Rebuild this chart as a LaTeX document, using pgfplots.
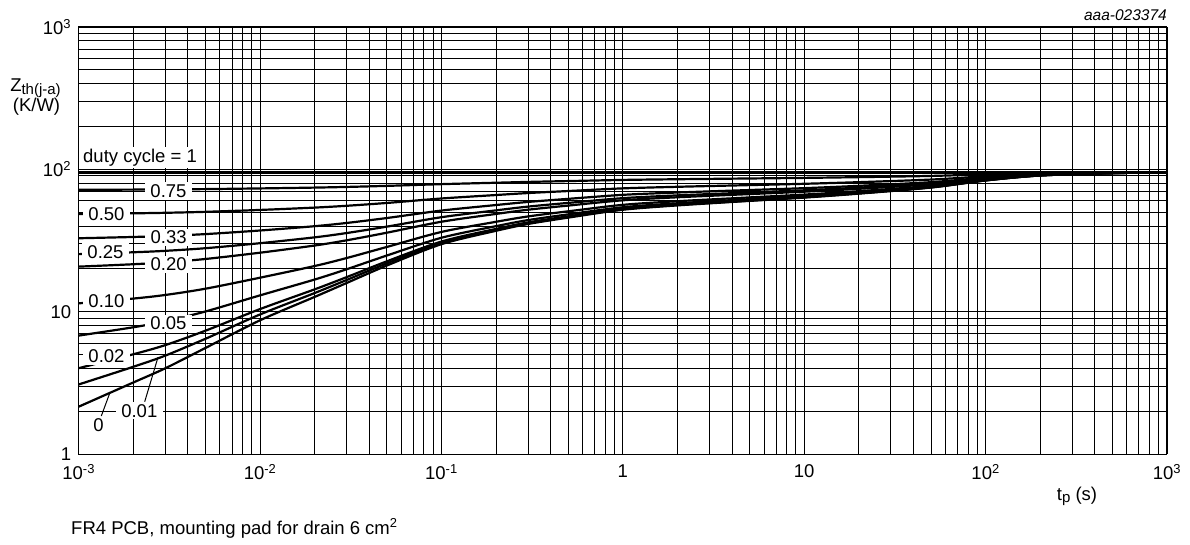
\documentclass[border=0pt]{standalone}
\usepackage{fontspec}
\setmainfont{Liberation Sans}
\usepackage{pgfplots}
\usepackage{pgfplotstable}
\pgfplotsset{compat=1.18}

\pgfplotstableread{
t     d0    d001  d002  d005  d010  d020  d025  d033  d050  d075  d100
0.001 2.15  3.08  4.01  6.79  11.44 20.72 25.36 32.79 48.58 71.79 95
0.002 3.18  4.10  5.02  7.77  12.36 21.54 26.14 33.48 49.09 72.05 95
0.003 4.00  4.91  5.82  8.55  13.10 22.20 26.75 34.03 49.50 72.25 95
0.005 5.56  6.45  7.35  10.03 14.50 23.45 27.92 35.08 50.28 72.64 95
0.01  8.70  9.56  10.43 13.02 17.33 25.96 30.28 37.18 51.85 73.43 95
0.02  12.7  13.52 14.35 16.82 20.93 29.16 33.28 39.86 53.85 74.43 95
0.03  15.9  16.69 17.48 19.86 23.81 31.72 35.68 42.00 55.45 75.23 95
0.05  21.1  21.84 22.58 24.80 28.49 35.88 39.58 45.49 58.05 76.53 95
0.1   29.8  30.45 31.10 33.06 36.32 42.84 46.10 51.32 62.40 78.70 95
0.2   37.0  37.58 38.16 39.90 42.80 48.60 51.50 56.14 66.00 80.50 95
0.3   41.3  41.84 42.37 43.99 46.67 52.04 54.73 59.02 68.15 81.58 95
0.5   45.8  46.29 46.78 48.26 50.72 55.64 58.10 62.04 70.40 82.70 95
1     52.0  52.43 52.86 54.15 56.30 60.60 62.75 66.19 73.50 84.25 95
2     55.8  56.19 56.58 57.76 59.72 63.64 65.60 68.74 75.40 85.20 95
5     60.0  60.35 60.70 61.75 63.50 67.00 68.75 71.55 77.50 86.25 95
10    63.3  63.62 63.93 64.89 66.47 69.64 71.23 73.76 79.15 87.08 95
20    67.5  67.78 68.05 68.88 70.25 73.00 74.38 76.58 81.25 88.13 95
50    74.5  74.71 74.91 75.53 76.55 78.60 79.63 81.27 84.75 89.88 95
100   83.5  83.62 83.73 84.08 84.65 85.80 86.38 87.30 89.25 92.13 95
200   90.5  90.55 90.59 90.73 90.95 91.40 91.63 91.99 92.75 93.88 95
500   94.0  94.01 94.02 94.05 94.10 94.20 94.25 94.33 94.50 94.75 95
1000  95    95    95    95    95    95    95    95    95    95    95
}\zth

\newcommand{\lab}{\fontsize{18.5}{21}\selectfont}
\newcommand{\sub}[1]{\raisebox{-2.5pt}{\fontsize{15}{15}\selectfont #1}}

\begin{document}
\begin{tikzpicture}
\useasboundingbox (0,0) rectangle (1190pt,-545pt);
\begin{axis}[
  at={(78.7pt,-454pt)}, anchor=south west,
  width=1088.3pt, height=427pt, scale only axis,
  xmode=log, ymode=log,
  xmin=1e-3, xmax=1e3, ymin=1, ymax=1e3,
  xtick={1e-3,1e-2,1e-1,1,10,100,1000},
  xticklabels={10\textsuperscript{-3},10\textsuperscript{-2},10\textsuperscript{-1},1,10,10\textsuperscript{2},10\textsuperscript{3}},
  ytick={1,10,100,1000},
  yticklabels={1,10,10\textsuperscript{2},10\textsuperscript{3}},
  minor xtick={2e-3,3e-3,4e-3,5e-3,6e-3,7e-3,8e-3,9e-3,
    2e-2,3e-2,4e-2,5e-2,6e-2,7e-2,8e-2,9e-2,
    0.2,0.3,0.4,0.5,0.6,0.7,0.8,0.9,
    2,3,4,5,6,7,8,9,
    20,30,40,50,60,70,80,90,
    200,300,400,500,600,700,800,900},
  minor ytick={2,3,4,5,6,7,8,9,20,30,40,50,60,70,80,90,200,300,400,500,600,700,800,900},
  grid=both,
  major grid style={black, line width=0.9pt},
  minor grid style={black, line width=0.9pt},
  major tick length=0pt, minor tick length=0pt,
  axis line style={black, line width=1pt},
  ticklabel style={font=\lab},
  xticklabel style={yshift=-7pt},
  yticklabel style={xshift=-4pt},
  zc/.style={black, solid, line width=2.2pt, mark=none, smooth},
]
\addplot[zc] table[x=t, y=d0] {\zth};
\addplot[zc] table[x=t, y=d001] {\zth};
\addplot[zc] table[x=t, y=d002] {\zth};
\addplot[zc] table[x=t, y=d005] {\zth};
\addplot[zc] table[x=t, y=d010] {\zth};
\addplot[zc] table[x=t, y=d020] {\zth};
\addplot[zc] table[x=t, y=d025] {\zth};
\addplot[zc] table[x=t, y=d033] {\zth};
\addplot[zc] table[x=t, y=d050] {\zth};
\addplot[zc] table[x=t, y=d075] {\zth};
\addplot[zc] table[x=t, y=d100] {\zth};
\end{axis}

% curve labels
\tikzset{cl/.style={fill=white, inner xsep=5.5pt, inner ysep=2pt, text height=13.3pt, text depth=0pt, font=\lab}}
\node[fill=white, inner xsep=3pt, inner ysep=2pt, text height=13.5pt, text depth=3.8pt, font=\lab, anchor=west] at (80pt,-157.5pt) {duty cycle = 1};
\node[cl] at (168.5pt,-191pt) {0.75};
\node[cl] at (106.5pt,-214pt) {0.50};
\node[cl] at (168.7pt,-237.3pt) {0.33};
\node[cl] at (105.5pt,-251.7pt) {0.25};
\node[cl] at (168.7pt,-264.3pt) {0.20};
\node[cl] at (106.5pt,-300.7pt) {0.10};
\node[cl] at (168.5pt,-323.3pt) {0.05};
\node[cl] at (106.5pt,-356pt) {0.02};
\node[cl] at (139.3pt,-410.7pt) {0.01};
\node[cl, inner xsep=2pt] at (98.5pt,-425pt) {0};
\draw[line width=1pt] (144.7pt,-401.7pt) -- (158pt,-357.3pt);
\draw[line width=1pt] (101.3pt,-416pt) -- (109.7pt,-393.3pt);

% axis labels and notes
\node[font=\lab, inner sep=0pt, anchor=base] at (35.5pt,-92pt) {Z\sub{th(j-a)}};
\node[font=\lab, inner sep=0pt, anchor=base] at (36.5pt,-111.5pt) {(K/W)};
\node[font=\lab, inner sep=0pt, anchor=base] at (1077pt,-500pt) {t\sub{p} (s)};
\node[font=\fontsize{15.5}{18}\selectfont\itshape, inner sep=0pt, anchor=east] at (1167pt,-15pt) {aaa-023374};
\node[font=\lab, inner sep=0pt, anchor=base west] at (71pt,-534pt) {FR4 PCB, mounting pad for drain 6 cm\textsuperscript{2}};
\end{tikzpicture}
\end{document}
